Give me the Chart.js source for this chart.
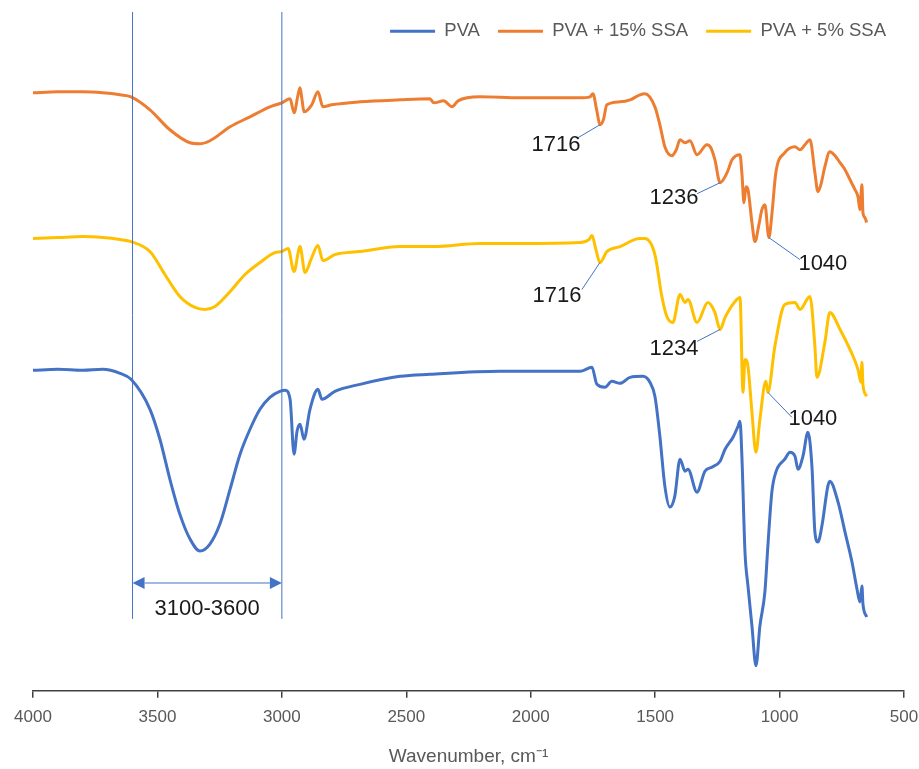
<!DOCTYPE html>
<html>
<head>
<meta charset="utf-8">
<script src="https://cdn.jsdelivr.net/npm/chart.js@4.4.1/dist/chart.umd.min.js"></script>
<style>
html, body { margin: 0; padding: 0; background: #fff; }
#wrap { width: 919px; height: 769px; }
</style>
</head>
<body>
<div id="wrap"><canvas id="ftir"></canvas></div>
<script>
// FTIR spectra, offset transmittance (arbitrary units)
var pvaWave = [4000, 3900, 3800, 3720, 3650, 3606, 3530, 3490, 3450, 3410, 3369, 3329, 3289, 3249, 3208, 3168, 3128, 3088, 3048, 3008, 2987, 2967, 2951, 2939, 2927, 2911, 2887, 2855, 2839, 2787, 2686, 2525, 2405, 2124, 1802, 1754, 1734, 1702, 1674, 1641, 1601, 1549, 1521, 1501, 1481, 1461, 1441, 1421, 1400, 1380, 1368, 1332, 1300, 1272, 1239, 1219, 1187, 1167, 1159, 1151, 1139, 1127, 1111, 1095, 1079, 1059, 1047, 1031, 1015, 979, 958, 938, 926, 906, 886, 870, 858, 846, 830, 806, 798, 765, 737, 709, 689, 677, 669, 665, 650];
var pvaValue = [321, 322, 321, 322, 318, 312, 282, 252, 212, 177, 152, 140, 147, 167, 202, 237, 262, 282, 294, 300, 301, 292, 237, 260, 267, 252, 282, 302, 292, 300, 307, 315, 317, 320, 320, 324, 307, 304, 310, 308, 314, 315, 309, 295, 255, 205, 184, 195, 232, 220, 222, 199, 220, 224, 230, 242, 254, 265, 270, 232, 139, 105, 65, 25, 65, 99, 145, 199, 219, 232, 239, 235, 222, 235, 259, 225, 159, 149, 165, 205, 210, 189, 159, 129, 102, 89, 105, 87, 74];

var ssa15Wave = [4000, 3900, 3800, 3720, 3650, 3606, 3530, 3450, 3369, 3330, 3289, 3208, 3128, 3048, 3000, 2967, 2951, 2935, 2927, 2919, 2911, 2880, 2855, 2835, 2800, 2686, 2525, 2405, 2389, 2350, 2316, 2292, 2204, 2043, 1900, 1802, 1762, 1750, 1735, 1722, 1708, 1694, 1641, 1601, 1561, 1541, 1501, 1481, 1461, 1433, 1415, 1400, 1380, 1360, 1332, 1292, 1276, 1260, 1239, 1211, 1191, 1159, 1151, 1143, 1135, 1127, 1111, 1099, 1083, 1071, 1059, 1043, 1031, 1015, 979, 938, 918, 898, 878, 858, 846, 834, 818, 798, 777, 757, 737, 717, 697, 685, 677, 669, 665, 657, 650];
var ssa15Value = [599, 600, 600, 599, 597, 595, 582, 562, 549, 548, 551, 565, 575, 585, 589, 593, 579, 597, 604, 592, 580, 587, 600, 585, 587, 590, 592, 593, 589, 591, 585, 591, 595, 594, 594, 594, 595, 598, 582, 567, 572, 587, 590, 592, 597, 598, 585, 567, 545, 536, 542, 552, 549, 551, 537, 547, 544, 532, 509, 519, 532, 537, 517, 489, 505, 502, 469, 450, 467, 482, 487, 454, 477, 519, 539, 545, 542, 547, 552, 519, 500, 507, 525, 540, 536, 529, 522, 512, 502, 495, 482, 507, 479, 474, 469];

var ssa5Wave = [4000, 3900, 3800, 3720, 3650, 3606, 3530, 3470, 3410, 3349, 3309, 3269, 3208, 3148, 3088, 3028, 3000, 2975, 2951, 2927, 2907, 2880, 2855, 2835, 2787, 2686, 2525, 2389, 2204, 2043, 1802, 1766, 1754, 1738, 1722, 1694, 1641, 1561, 1541, 1501, 1473, 1453, 1429, 1400, 1380, 1368, 1332, 1288, 1260, 1239, 1219, 1179, 1159, 1147, 1139, 1127, 1111, 1095, 1079, 1055, 1047, 1019, 979, 938, 918, 878, 858, 850, 818, 798, 757, 717, 685, 673, 669, 665, 650];
var ssa5Value = [453, 454, 455, 454, 452, 450, 440, 417, 395, 384, 382, 385, 400, 417, 429, 439, 440, 443, 420, 445, 419, 434, 446, 431, 437, 440, 445, 445, 448, 448, 449, 452, 456, 442, 429, 440, 445, 453, 453, 437, 395, 375, 369, 397, 389, 392, 369, 389, 379, 362, 374, 390, 394, 299, 332, 325, 279, 239, 272, 310, 299, 345, 387, 389, 382, 395, 345, 314, 349, 379, 362, 342, 322, 309, 329, 307, 295];

var seriesNames = ['PVA', 'PVA + 15% SSA', 'PVA + 5% SSA'];
var seriesColors = ['#4472C4', '#ED7D31', '#FFC000'];
var xTicks = [4000, 3500, 3000, 2500, 2000, 1500, 1000, 500];

// peak callouts: which series, at which wavenumber, and the printed text
var peakSeries = [1, 1, 1, 2, 2, 2];
var peakWave = [1722, 1239, 1043, 1722, 1239, 1047];
var peakText = ['1716', '1236', '1040', '1716', '1234', '1040'];

// marked O-H band
var bandEdges = [3600, 3000];
var bandText = '3100-3600';
var bandLineSpan = [72, 680];
var bandArrowLevel = 108;
var bandTextLevel = 82;

// leader / text offsets in px from the peak point
var calloutOffsets = [
    { lx: -22, ly: 13, tx: -44, ty: 20 },
    { lx: -23, ly: 11, tx: -46, ty: 15 },
    { lx: 31, ly: 22, tx: 54, ty: 26 },
    { lx: -18, ly: 27, tx: -43, ty: 33 },
    { lx: -23, ly: 12, tx: -46, ty: 20 },
    { lx: 24, ly: 25, tx: 45, ty: 27 }
];

var allWaves = [pvaWave, ssa15Wave, ssa5Wave];
var allValues = [pvaValue, ssa15Value, ssa5Value];

function toPoints(w, v) {
    return w.map(function (x, i) { return { x: x, y: v[i] }; });
}

var FONT = "'Liberation Sans', Arial, sans-serif";

var datasets = seriesNames.map(function (name, i) {
    return {
        label: name,
        data: toPoints(allWaves[i], allValues[i]),
        borderColor: seriesColors[i],
        backgroundColor: seriesColors[i],
        borderWidth: 3,
        pointRadius: 0,
        cubicInterpolationMode: 'monotone',
        fill: false
    };
});

var calloutPlugin = {
    id: 'callouts',
    afterDatasetsDraw: function (chart) {
        var ctx = chart.ctx;
        var xs = chart.scales.x, ys = chart.scales.y;
        ctx.save();

        // band lines + double arrow
        ctx.strokeStyle = '#4472C4';
        ctx.fillStyle = '#4472C4';
        ctx.lineWidth = 1;
        var bx = bandEdges.map(function (w) { return xs.getPixelForValue(w); });
        var yTop = ys.getPixelForValue(bandLineSpan[1]);
        var yBot = ys.getPixelForValue(bandLineSpan[0]);
        bx.forEach(function (x) {
            ctx.beginPath();
            ctx.moveTo(x, yTop);
            ctx.lineTo(x, yBot);
            ctx.stroke();
        });
        var ay = ys.getPixelForValue(bandArrowLevel);
        var head = 12;
        ctx.beginPath();
        ctx.moveTo(bx[0] + head, ay);
        ctx.lineTo(bx[1] - head, ay);
        ctx.stroke();
        [[bx[0], 1], [bx[1], -1]].forEach(function (a) {
            ctx.beginPath();
            ctx.moveTo(a[0], ay);
            ctx.lineTo(a[0] + a[1] * head, ay - 6);
            ctx.lineTo(a[0] + a[1] * head, ay + 6);
            ctx.closePath();
            ctx.fill();
        });
        ctx.fillStyle = '#1a1a1a';
        ctx.font = '22px ' + FONT;
        ctx.textAlign = 'center';
        ctx.textBaseline = 'middle';
        ctx.fillText(bandText, (bx[0] + bx[1]) / 2, ys.getPixelForValue(bandTextLevel));

        // peak callouts
        peakWave.forEach(function (w, i) {
            var s = peakSeries[i];
            var idx = allWaves[s].indexOf(w);
            var px = xs.getPixelForValue(w);
            var py = ys.getPixelForValue(allValues[s][idx]);
            var o = calloutOffsets[i];
            ctx.strokeStyle = '#4472C4';
            ctx.lineWidth = 1;
            ctx.beginPath();
            ctx.moveTo(px, py);
            ctx.lineTo(px + o.lx, py + o.ly);
            ctx.stroke();
            ctx.fillStyle = '#1a1a1a';
            ctx.font = '22px ' + FONT;
            ctx.fillText(peakText[i], px + o.tx, py + o.ty);
        });
        ctx.restore();
    }
};

// let the legend sit over the plot area, as in the original
var legendOverlay = {
    id: 'legendOverlay',
    beforeLayout: function (chart) {
        var lg = chart.legend;
        if (lg && !lg._overlay) {
            var fit = lg.fit;
            lg.fit = function () {
                fit.call(this);
                this._fullHeight = this.height;
                this.height = 0;
            };
            lg._overlay = true;
        }
    },
    afterLayout: function (chart) {
        var lg = chart.legend;
        if (lg && lg._fullHeight) {
            lg.height = lg._fullHeight;
            lg.bottom = lg.top + lg._fullHeight;
        }
    }
};

var ftirChart = new Chart(document.getElementById('ftir'), {
    type: 'line',
    data: { datasets: datasets },
    options: {
        animation: false,
        responsive: true,
        maintainAspectRatio: false,
        layout: { padding: { left: 33, right: 15, top: 4, bottom: 1 } },
        plugins: {
            legend: {
                position: 'top',
                align: 'end',
                labels: {
                    color: '#595959',
                    font: { family: FONT, size: 18.5 },
                    boxWidth: 45,
                    boxHeight: 3,
                    padding: 18,
                    generateLabels: function (chart) {
                        return Chart.defaults.plugins.legend.labels.generateLabels(chart).map(function (l) {
                            l.lineWidth = 0;
                            return l;
                        });
                    }
                }
            },
            tooltip: { enabled: false }
        },
        scales: {
            x: {
                type: 'linear',
                reverse: true,
                min: 500,
                max: 4000,
                afterBuildTicks: function (scale) {
                    scale.ticks = xTicks.map(function (v) { return { value: v }; });
                },
                afterFit: function (scale) {
                    scale.paddingLeft = 0;
                    scale.paddingRight = 0;
                },
                ticks: {
                    color: '#595959',
                    font: { family: FONT, size: 17 },
                    padding: 9,
                    maxRotation: 0,
                    callback: function (value) { return String(value); }
                },
                grid: {
                    drawOnChartArea: false,
                    drawTicks: true,
                    tickLength: 7,
                    color: '#404040',
                    lineWidth: 1.5
                },
                border: { display: true, color: '#404040', width: 1.5 },
                title: {
                    display: true,
                    text: 'Wavenumber, cm\u207B\u00B9',
                    color: '#595959',
                    font: { family: FONT, size: 19 },
                    padding: { top: 9, bottom: 0 }
                }
            },
            y: {
                type: 'linear',
                display: false,
                min: 0,
                max: 688
            }
        }
    },
    plugins: [legendOverlay, calloutPlugin]
});
</script>
</body>
</html>
